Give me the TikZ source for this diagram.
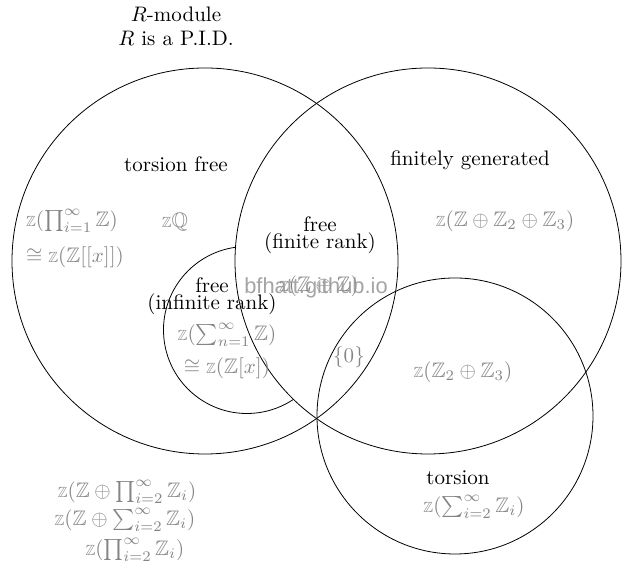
\documentclass[tikz,border=0pt]{standalone}
\usepackage{amssymb}
\usepackage{fontspec}
\newfontfamily\wmfont{Liberation Sans}
\definecolor{lbl}{gray}{0.52}
\definecolor{wm}{gray}{0.58}
\newcommand\zmod{\mbox{\scriptsize$\mathbb{Z}$}}
\tikzset{
  venn/.style={draw=black, line width=0.38pt},
  txt/.style={inner sep=0pt, text=black},
  ex/.style={inner sep=0pt, text=lbl},
  wmark/.style={inner sep=0pt, text=wm, opacity=0.85, font=\wmfont\fontsize{10.4}{12}\selectfont},
}
\begin{document}
\begin{tikzpicture}[x=0.476pt,y=-0.476pt]
\useasboundingbox (0,0) rectangle (634,577);
% circles
\coordinate (cL) at (205,261);
\coordinate (cR) at (428,261);
\coordinate (cT) at (455,416);
\coordinate (cS) at (247,330);
\draw[venn] (cL) circle[radius=91.87pt];
\draw[venn] (cR) circle[radius=91.87pt];
\draw[venn] (cT) circle[radius=65.69pt];
\draw[venn] (cS) ++(97.9:39.75pt) arc[start angle=97.9,end angle=303.9,radius=39.75pt];
% black labels
\node[txt] (t1) at (176,14) {$R$-module};
\node[txt] (t2) at (176,38) {$R$ is a P.I.D.};
\node[txt] (tf) at (176,164) {torsion free};
\node[txt] (fg) at (470,160) {finitely generated};
\node[txt] (fr1) at (320,224) {free};
\node[txt] (fr2) at (320,243) {(finite rank)};
\node[txt] (ir1) at (212,285) {free};
\node[txt] (ir2) at (212,304) {(infinite rank)};
\node[txt] (to) at (458,478) {torsion};
% grey examples
\node[ex] (e1) at (72,221) {$\zmod(\prod_{i=1}^{\infty}\mathbb{Z})$};
\node[ex] (e2) at (75,257) {$\cong\zmod(\mathbb{Z}[[x]])$};
\node[ex] (e3) at (175,222) {$\zmod\mathbb{Q}$};
\node[ex] (e4) at (505,221) {$\zmod(\mathbb{Z}\oplus\mathbb{Z}_2\oplus\mathbb{Z}_3)$};
\node[ex] (e5) at (319,286) {$\zmod(\mathbb{Z}\oplus\mathbb{Z})$};
\node[ex] (e6) at (227,335) {$\zmod(\sum_{n=1}^{\infty}\mathbb{Z})$};
\node[ex] (e7) at (227,368) {$\cong\zmod(\mathbb{Z}[x])$};
\node[ex] (e8) at (349,357) {$\{0\}$};
\node[ex] (e9) at (463,372) {$\zmod(\mathbb{Z}_2\oplus\mathbb{Z}_3)$};
\node[ex] (e10) at (474,507) {$\zmod(\sum_{i=2}^{\infty}\mathbb{Z}_i)$};
\node[ex] (e11) at (127,492) {$\zmod(\mathbb{Z}\oplus\prod_{i=2}^{\infty}\mathbb{Z}_i)$};
\node[ex] (e12) at (125,520) {$\zmod(\mathbb{Z}\oplus\sum_{i=2}^{\infty}\mathbb{Z}_i)$};
\node[ex] (e13) at (135,550) {$\zmod(\prod_{i=2}^{\infty}\mathbb{Z}_i)$};
% watermark
\node[wmark] (wm) at (316,288) {bfhatt.github.io};
\end{tikzpicture}
\end{document}
